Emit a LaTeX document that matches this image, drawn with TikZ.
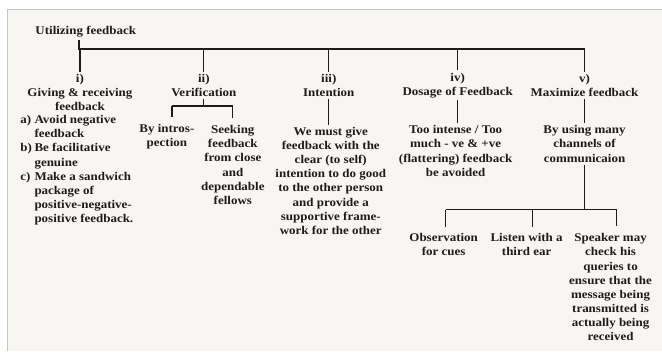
\documentclass[tikz,border=0pt]{standalone}
\usepackage{fontspec}
\setmainfont{Liberation Serif}[FakeStretch=1.1]
\definecolor{ink}{HTML}{1E1C1A}
\definecolor{paper}{HTML}{F8F6F3}
\definecolor{frame}{HTML}{C4C4C4}
\begin{document}
\begin{tikzpicture}[x=1pt,y=-1pt,
  txt/.style={font=\fontsize{11.8}{14.2}\selectfont\bfseries, text=ink,
              inner sep=0pt, outer sep=2.5pt, align=center},
  leaf/.style={txt, outer sep=7pt},
  link/.style={draw=ink, line width=1.3pt}]
% page and scanned sheet
\fill[white] (0,0) rectangle (662,351);
\fill[paper] (8,10) rectangle (662,351);
\draw[frame, line width=1pt] (8,351) -- (8,10) -- (662,10);
\useasboundingbox (0,0) rectangle (662,351);

% root and the five headings
\node[txt, anchor=west] (root) at (33,32) {Utilizing feedback};
\coordinate (bar) at (79,49);
\node[txt] (h1) at (80,92.5) {i)\\Giving \& receiving\\feedback};
\node[txt] (h2) at (204,85.5) {ii)\\Verification};
\node[txt] (h3) at (329,85.5) {iii)\\Intention};
\node[txt] (h4) at (458,85.5) {iv)\\Dosage of Feedback};
\node[txt] (h5) at (585,85.5) {v)\\Maximize feedback};

\draw[link] (root.south -| bar) -- (bar) -- (bar -| h5.north);
\foreach \h in {h1,h2,h3,h4,h5}
  \draw[link] (bar -| \h.north) -- (\h.north);

% i) list of points
\node[txt, anchor=west, align=left] (l1) at (18,170.5) {%
  \begin{tabular}{@{}l@{\hspace{2.5pt}}l@{}}
  a) & Avoid negative\\
     & feedback\\
  b) & Be facilitative\\
     & genuine\\
  c) & Make a sandwich\\
     & package of\\
     & positive-negative-\\
     & positive feedback.
  \end{tabular}};

% ii) verification
\node[leaf] (v1) at (167,137) {By intros-\\pection};
\node[leaf] (v2) at (233,165) {Seeking\\feedback\\from close\\and\\dependable\\fellows};
\coordinate (vL) at (172,106);
\coordinate (vR) at (233,106);
\draw[link] (h2.south) -- (h2.south |- vL);
\draw[link] (vL) -- (vR);
\draw[link] (vL) -- (vL |- v1.north);
\draw[link] (vR) -- (v2.north);

% iii) intention
\node[txt] (t3) at (331,181) {We must give\\feedback with the\\clear (to self)\\intention to do good\\to the other person\\and provide a\\supportive frame-\\work for the other};
\draw[link] (h3.south) -- (h3.south |- t3.north);

% iv) dosage
\node[txt] (t4) at (456,151) {Too intense / Too\\much - ve \& +ve\\(flattering) feedback\\be avoided};
\draw[link] (h4.south) -- (h4.south |- t4.north);

% v) maximize
\node[txt] (t5) at (585,144) {By using many\\channels of\\communicaion};
\draw[link] (h5.south) -- (t5.north);
\node[leaf] (c1) at (444,245) {Observation\\for cues};
\node[leaf] (c2) at (527,245) {Listen with a\\third ear};
\node[leaf] (c3) at (611,287.5) {Speaker may\\check his\\queries to\\ensure that the\\message being\\transmitted is\\actually being\\received};
\coordinate (cL) at (446,210);
\coordinate (cM) at (533,210);
\coordinate (cR) at (617,210);
\draw[link] (t5.south) -- (t5.south |- cL);
\draw[link] (cL) -- (cR);
\draw[link] (cL) -- (cL |- c1.north);
\draw[link] (cM) -- (cM |- c2.north);
\draw[link] (cR) -- (cR |- c3.north);
\end{tikzpicture}
\end{document}
